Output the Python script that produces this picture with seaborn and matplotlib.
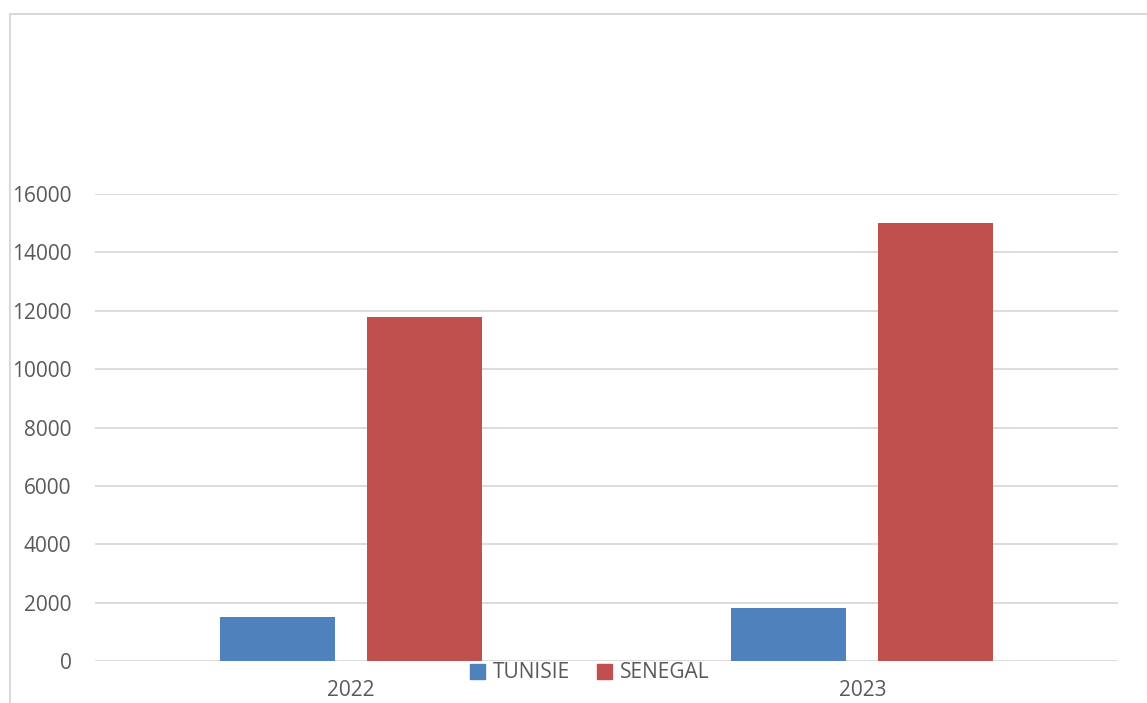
import matplotlib
matplotlib.use("Agg")
import matplotlib.pyplot as plt
from matplotlib.lines import Line2D
import pandas as pd
import seaborn as sns

years = ["2022", "2023"]
countries = ["TUNISIE", "SENEGAL"]
tunisie = [1500, 1800]
senegal = [11800, 15000]
y_ticks = [0, 2000, 4000, 6000, 8000, 10000, 12000, 14000, 16000]
colors = ["#4F81BD", "#C0504D"]

df = pd.DataFrame({
    "year": years * 2,
    "country": [countries[0]] * len(years) + [countries[1]] * len(years),
    "value": tunisie + senegal,
})

sns.set_theme(style="white")
plt.rcParams["font.family"] = ["Open Sans", "DejaVu Sans"]

W, H = 1147, 703
fig = plt.figure(figsize=(W / 100, H / 100), dpi=100)
ax = fig.add_axes([95 / W, (H - 661) / H, (1118 - 95) / W, (661 - 194) / H])

sns.barplot(data=df, x="year", y="value", hue="country", order=years,
            hue_order=countries, palette=colors, width=0.575, gap=0.218,
            linewidth=0, saturation=1, ax=ax)

ax.set_xlim(-0.5, 1.5)
ax.set_ylim(0, 16000)
ax.set_yticks(y_ticks)
ax.set_yticklabels([str(v) for v in y_ticks])
ax.yaxis.grid(True, color="#d9d9d9", linewidth=1.3)
ax.set_axisbelow(True)
for s in ax.spines.values():
    s.set_visible(False)
ax.set_xlabel("")
ax.set_ylabel("")
ax.tick_params(axis="y", length=0, pad=17, labelsize=15, labelcolor="#595959")
ax.tick_params(axis="x", length=0, pad=14, labelsize=15, labelcolor="#595959")

ax.legend_.remove()
handles = [plt.Rectangle((0, 0), 1, 1, color=c) for c in colors]
fig.legend(handles, countries, loc="center",
           bbox_to_anchor=(590 / W, 1 - 673 / H), ncol=2, frameon=False,
           handlelength=0.7, handleheight=0.7, handletextpad=0.4,
           columnspacing=1.3, fontsize=15, labelcolor="#595959",
           borderpad=0)

# Outer chart frame (left and top edges visible)
fig.add_artist(Line2D([10 / W, 10 / W], [0, 1 - 14 / H], color="#d9d9d9",
                      linewidth=1.5, transform=fig.transFigure))
fig.add_artist(Line2D([10 / W, 1], [1 - 14 / H, 1 - 14 / H], color="#d9d9d9",
                      linewidth=1.5, transform=fig.transFigure))

fig.savefig("out.png", dpi=100)
